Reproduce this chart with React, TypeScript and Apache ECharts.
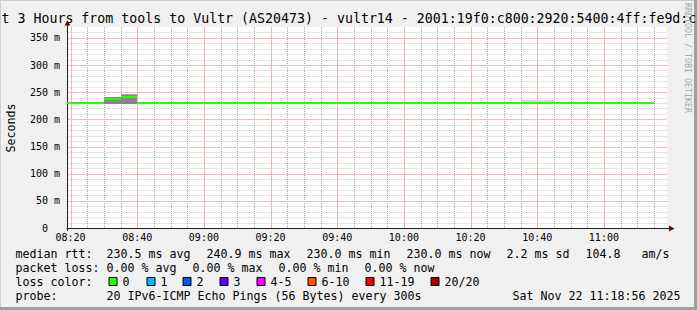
import React, { useEffect, useRef } from 'react';
import * as echarts from 'echarts';

// ---------- text ----------
const TITLE = 't 3 Hours from tools to Vultr (AS20473) - vultr14 - 2001:19f0:c800:2920:5400:4ff:fe9d:c';
const Y_NAME = 'Seconds';
const WATERMARK = 'RRDTOOL / TOBI OETIKER';

// ---------- time axis ----------
const START_TIME = '08:18:56';
const END_TIME = '11:18:56';
const STEP_MIN = 5;
const X_MAJOR = ['08:20', '08:40', '09:00', '09:20', '09:40', '10:00', '10:20', '10:40', '11:00'];
const X_MINOR = [
  '08:25', '08:30', '08:35', '08:45', '08:50', '08:55',
  '09:05', '09:10', '09:15', '09:25', '09:30', '09:35', '09:45', '09:50', '09:55',
  '10:05', '10:10', '10:15', '10:25', '10:30', '10:35', '10:45', '10:50', '10:55',
  '11:05', '11:10', '11:15',
];

// ---------- value axis (milliseconds) ----------
const Y_MAX = 370;
const Y_LABEL_VALUES = [0, 50, 100, 150, 200, 250, 300, 350];
const Y_MAJOR = [50, 100, 150, 200, 250, 300, 350];
const Y_MINOR = [
  10, 20, 30, 40, 60, 70, 80, 90, 110, 120, 130, 140, 160, 170, 180, 190,
  210, 220, 230, 240, 260, 270, 280, 290, 310, 320, 330, 340, 360,
];

// ---------- data: 5-minute slots (slot end times) ----------
const SLOT_ENDS = [
  '08:20', '08:25', '08:30', '08:35', '08:40', '08:45', '08:50', '08:55',
  '09:00', '09:05', '09:10', '09:15', '09:20', '09:25', '09:30', '09:35', '09:40', '09:45', '09:50', '09:55',
  '10:00', '10:05', '10:10', '10:15', '10:20', '10:25', '10:30', '10:35', '10:40', '10:45', '10:50', '10:55',
  '11:00', '11:05', '11:10', '11:15',
];
const MEDIAN_RTT = [
  230.0, 230.0, 230.0, 237.5, 240.5, 230.0, 230.0, 230.0,
  230.0, 230.0, 230.0, 230.0, 230.0, 230.0, 230.0, 230.0, 230.0, 230.0, 230.0, 230.0,
  230.0, 230.0, 230.0, 230.0, 230.0, 230.0, 230.0, 230.0, 230.0, 230.0, 230.0, 230.0,
  230.0, 230.0, 230.0, 230.0,
];
const PACKET_LOSS = [
  0, 0, 0, 0, 0, 0, 0, 0,
  0, 0, 0, 0, 0, 0, 0, 0, 0, 0, 0, 0,
  0, 0, 0, 0, 0, 0, 0, 0, 0, 0, 0, 0,
  0, 0, 0, 0,
];
// smoke bands: [slot end, low ms, high ms]
const SMOKE_LIGHT: [string, number, number][] = [['10:40', 230.0, 236.0], ['10:45', 230.0, 236.0]];
const SMOKE_MID: [string, number, number][] = [['08:40', 228.4, 246.8]];
const SMOKE_DARK: [string, number, number][] = [['08:35', 228.4, 240.7], ['08:40', 228.4, 244.4]];

// ---------- legend ----------
const LOSS_LABELS = ['0', '1', '2', '3', '4-5', '6-10', '11-19', '20/20'];
const LOSS_UPPER = [0, 1, 2, 3, 5, 10, 19, 20];
const LOSS_COLORS = ['#26ff00', '#00b8ff', '#0059ff', '#5e00ff', '#ff00fe', '#ff5500', '#ff0000', '#a10000'];
const MEDIAN_STATS = ['230.5 ms avg', '240.9 ms max', '230.0 ms min', '230.0 ms now', '2.2 ms sd', '104.8', 'am/s'];
const LOSS_STATS = ['0.00 % avg', '0.00 % max', '0.00 % min', '0.00 % now'];
const PROBE_TEXT = '20 IPv6-ICMP Echo Pings (56 Bytes) every 300s';
const DATE_TEXT = 'Sat Nov 22 11:18:56 2025';

// ---------- styling ----------
const FONT = 'DejaVu Sans Mono';
const BACK = '#f0f0f0';
const GRID_COLOR = 'rgba(128,128,128,0.7)';
const GRID_H_COLOR = '#e4e4e4';
const MGRID_H_COLOR = '#f2bcbc';
const MGRID_V_COLOR = '#f0b4b4';
const AXIS_COLOR = '#1f1f1f';
const ARROW_COLOR = '#800000';
const LEG_FS = 11.63;

const toMin = (s: string) => {
  const [h, m, sec] = s.split(':').map(Number);
  return h * 60 + m + (sec || 0) / 60;
};
const fmtTime = (v: number) => {
  const m = Math.round(v);
  return `${String(Math.floor(m / 60)).padStart(2, '0')}:${String(m % 60).padStart(2, '0')}`;
};
const lossColor = (l: number) => {
  const i = LOSS_UPPER.findIndex((u) => l <= u);
  return LOSS_COLORS[i < 0 ? LOSS_COLORS.length - 1 : i];
};

const X_MIN = toMin(START_TIME);
const X_MAX = toMin(END_TIME);
const X_MID = (X_MIN + X_MAX) / 2;

// one series holds every grid line: [x, y, horizontal?, major?]
const GRID_ROWS: number[][] = [
  ...Y_MINOR.map((v) => [X_MID, v, 1, 0]),
  ...X_MINOR.map((t) => [toMin(t), Y_MAX / 2, 0, 0]),
  ...Y_MAJOR.map((v) => [X_MID, v, 1, 1]),
  ...X_MAJOR.map((t) => [toMin(t), Y_MAX / 2, 0, 1]),
];

function gridSeries() {
  return {
    type: 'custom',
    name: 'grid',
    silent: true,
    z: 1,
    itemStyle: { color: GRID_COLOR },
    encode: { x: 0, y: 1 },
    data: GRID_ROWS,
    renderItem: (_p: any, api: any) => {
      const horizontal = api.value(2) === 1;
      const major = api.value(3) === 1;
      if (horizontal) {
        const a = api.coord([X_MIN, api.value(1)]);
        const b = api.coord([X_MAX, api.value(1)]);
        const y = Math.round(a[1]);
        return {
          type: 'rect',
          shape: { x: Math.round(a[0]) + 1, y, width: Math.round(b[0]) - Math.round(a[0]) - 1, height: 1 },
          style: { fill: major ? MGRID_H_COLOR : GRID_H_COLOR, stroke: null },
        };
      }
      const a = api.coord([api.value(0), 0]);
      const b = api.coord([api.value(0), Y_MAX]);
      if (major) {
        const x = Math.round(a[0]);
        return {
          type: 'rect',
          shape: { x, y: b[1], width: 1, height: a[1] - b[1] },
          style: { fill: MGRID_V_COLOR, stroke: null },
        };
      }
      const x = Math.round(a[0]) + 0.5;
      return {
        type: 'line',
        shape: { x1: x, y1: a[1], x2: x, y2: b[1] },
        style: { stroke: GRID_COLOR, lineWidth: 1, lineDash: [1, 1], fill: null },
      };
    },
  };
}

function canvasSeries() {
  return {
    type: 'custom',
    name: 'canvas',
    silent: true,
    z: 0,
    itemStyle: { color: '#ffffff' },
    encode: { x: 0, y: 1 },
    data: [[X_MID, Y_MAX / 2]],
    renderItem: (_p: any, api: any) => {
      const a = api.coord([X_MIN, Y_MAX]);
      const b = api.coord([X_MAX, 0]);
      return {
        type: 'rect',
        shape: { x: a[0], y: a[1], width: b[0] - a[0], height: b[1] - a[1] },
        style: { fill: '#ffffff', stroke: null },
      };
    },
  };
}

function bandSeries(name: string, rows: [string, number, number][], color: string) {
  return {
    type: 'custom',
    name,
    clip: true,
    silent: true,
    z: 3,
    itemStyle: { color },
    encode: { x: 0, y: [1, 2] },
    data: rows.map(([t, lo, hi]) => [toMin(t), lo, hi]),
    renderItem: (_p: any, api: any) => {
      const t = api.value(0);
      const a = api.coord([t - STEP_MIN, api.value(2)]);
      const b = api.coord([t, api.value(1)]);
      const x0 = Math.round(a[0]);
      const x1 = Math.round(b[0]);
      const y0 = Math.round(a[1]);
      const y1 = Math.round(b[1]);
      return {
        type: 'rect',
        shape: { x: x0, y: y0, width: x1 - x0, height: y1 - y0 },
        style: { fill: color, stroke: null, opacity: 1 },
      };
    },
  };
}

function legendText(x: number, y: number, text: string, extra: any = {}) {
  return {
    type: 'text',
    x,
    y,
    silent: true,
    style: { text, fill: '#000', font: `${LEG_FS}px "${FONT}"`, verticalAlign: 'middle', align: 'left', ...extra },
  };
}

function buildOption() {
  const ROW = [254.3, 268.2, 282.1, 296];

  const graphics: any[] = [];
  graphics.push({ type: 'rect', shape: { x: 0, y: 0, width: 697, height: 1 }, style: { fill: '#cfcfcf' }, silent: true });
  graphics.push({ type: 'rect', shape: { x: 0, y: 0, width: 1, height: 310 }, style: { fill: '#cfcfcf' }, silent: true });
  graphics.push({ type: 'rect', shape: { x: 694, y: 0, width: 3, height: 310 }, style: { fill: '#9e9e9e' }, silent: true });
  graphics.push({ type: 'rect', shape: { x: 0, y: 307, width: 697, height: 3 }, style: { fill: '#9e9e9e' }, silent: true });
  graphics.push({
    type: 'text', x: 1.5, y: 18, silent: true,
    style: { text: TITLE, fill: '#000', font: `13.27px "${FONT}"`, verticalAlign: 'middle', align: 'left' },
  });
  graphics.push({
    type: 'text', x: 687.5, y: 58, rotation: -Math.PI / 2, silent: true,
    style: { text: WATERMARK, fill: '#aaaaaa', font: `8.3px "${FONT}"`, verticalAlign: 'middle', align: 'center' },
  });
  graphics.push({
    type: 'text', x: 11, y: 128, rotation: Math.PI / 2, silent: true,
    style: { text: Y_NAME, fill: '#000', font: `${LEG_FS}px "${FONT}"`, verticalAlign: 'middle', align: 'center' },
  });
  graphics.push({ type: 'line', shape: { x1: 667, y1: 228.5, x2: 670, y2: 228.5 }, style: { stroke: AXIS_COLOR, lineWidth: 1 }, silent: true });
  graphics.push({ type: 'line', shape: { x1: 67.5, y1: 231, x2: 67.5, y2: 24 }, style: { stroke: AXIS_COLOR, lineWidth: 1 }, silent: true });
  graphics.push({ type: 'polygon', shape: { points: [[669, 225.5], [674.5, 228.5], [669, 231.5]] }, style: { fill: ARROW_COLOR }, silent: true });
  graphics.push({ type: 'polygon', shape: { points: [[64.5, 25.5], [67.5, 20.5], [70.5, 25.5]] }, style: { fill: ARROW_COLOR }, silent: true });

  graphics.push(legendText(15.5, ROW[0], 'median rtt:'));
  const medX = [106.5, 206.5, 306.5, 406.5, 506.5, 585.5, 641.5];
  MEDIAN_STATS.forEach((s, i) => graphics.push(legendText(medX[i], ROW[0], s)));
  graphics.push(legendText(15.5, ROW[1], 'packet loss:'));
  const lossX = [106.5, 192.5, 278.5, 364.5];
  LOSS_STATS.forEach((s, i) => graphics.push(legendText(lossX[i], ROW[1], s)));
  graphics.push(legendText(15.5, ROW[2], 'loss color:'));
  const labX = [122.5, 160.5, 196.5, 233.5, 270.5, 321.5, 379.5, 444.5];
  LOSS_LABELS.forEach((s, i) => {
    graphics.push({
      type: 'rect', silent: true,
      shape: { x: labX[i] - 13.5, y: 277.5, width: 8, height: 8 },
      style: { fill: LOSS_COLORS[i], stroke: '#000', lineWidth: 1 },
    });
    graphics.push(legendText(labX[i], ROW[2], s));
  });
  graphics.push(legendText(15.5, ROW[3], 'probe:'));
  graphics.push(legendText(106.5, ROW[3], PROBE_TEXT));
  graphics.push(legendText(512.5, ROW[3], DATE_TEXT));

  const medianData = SLOT_ENDS.map((t, i) => [toMin(t), MEDIAN_RTT[i], PACKET_LOSS[i]]);

  return {
    animation: false,
    backgroundColor: BACK,
    grid: {
      left: 67, right: 30, top: 27, bottom: 82,
      show: false,
    },
    xAxis: {
      type: 'value', min: X_MIN, max: X_MAX, position: 'bottom',
      axisLine: { show: true, onZero: false, lineStyle: { color: AXIS_COLOR, width: 1 } },
      axisTick: { show: false },
      axisLabel: {
        customValues: X_MAJOR.map(toMin), formatter: fmtTime,
        fontFamily: FONT, fontSize: 10, color: '#000', margin: 4,
      },
      splitLine: { show: false },
    },
    yAxis: {
      type: 'value', min: 0, max: Y_MAX, position: 'left',
      axisLine: { show: true, onZero: false, lineStyle: { color: AXIS_COLOR, width: 1 } },
      axisTick: { show: false },
      axisLabel: {
        customValues: Y_LABEL_VALUES,
        formatter: (v: number) => (v === 0 ? '{z|0}' : `${v} m`),
        fontFamily: FONT, fontSize: 10, color: '#000', margin: 7,
        rich: { z: { fontFamily: FONT, fontSize: 10, color: '#000', padding: [0, 12, 0, 0] } },
      },
      splitLine: { show: false },
    },
    series: [
      canvasSeries(),
      gridSeries(),
      bandSeries('smoke-light', SMOKE_LIGHT, '#d8d8d8'),
      bandSeries('smoke-mid', SMOKE_MID, '#a8a8a8'),
      bandSeries('smoke-dark', SMOKE_DARK, '#868686'),
      {
        type: 'custom',
        name: 'median rtt',
        clip: true,
        silent: true,
        z: 5,
        itemStyle: { color: LOSS_COLORS[0] },
        encode: { x: 0, y: 1 },
        data: medianData,
        renderItem: (_p: any, api: any) => {
          const t = api.value(0);
          const v = api.value(1);
          const a = api.coord([t - STEP_MIN, v]);
          const b = api.coord([t, v]);
          const x0 = Math.round(a[0]);
          const x1 = Math.round(b[0]);
          const y = Math.round(a[1]);
          return {
            type: 'rect',
            shape: { x: x0, y: y - 1, width: x1 - x0, height: 2 },
            style: { fill: lossColor(api.value(2)), stroke: null },
          };
        },
      },
    ],
    graphic: graphics,
  };
}

export default function App() {
  const ref = useRef<HTMLDivElement>(null);
  useEffect(() => {
    document.body.style.margin = '0';
    const chart = echarts.init(ref.current!, null, { renderer: 'svg' });
    chart.setOption(buildOption() as any);
    return () => chart.dispose();
  }, []);
  return <div ref={ref} style={{ width: 697, height: 310 }} />;
}
